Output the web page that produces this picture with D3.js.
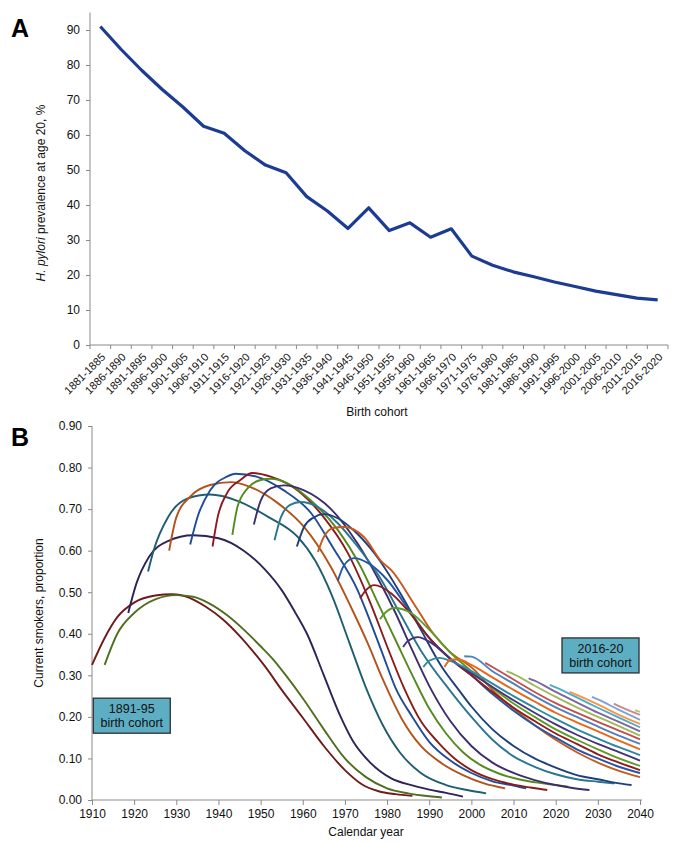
<!DOCTYPE html>
<html><head><meta charset="utf-8">
<script src="https://cdn.jsdelivr.net/npm/d3@7"></script>
<style>
body{margin:0;background:#fff;}
svg{display:block;font-family:"Liberation Sans",Arial,sans-serif;}
</style></head>
<body>
<svg id="chart" width="675" height="844"></svg>
<script>
// ---------- Panel A data ----------
const birthCohorts = ["1881-1885","1886-1890","1891-1895","1896-1900","1901-1905","1906-1910","1911-1915","1916-1920","1921-1925","1926-1930","1931-1935","1936-1940","1941-1945","1946-1950","1951-1955","1956-1960","1961-1965","1966-1970","1971-1975","1976-1980","1981-1985","1986-1990","1991-1995","1996-2000","2001-2005","2006-2010","2011-2015","2016-2020"];
const hpPrevalence = [91,84.5,78.5,73,68,62.5,60.5,55.5,51.4,49.2,42.4,38.3,33.3,39.2,32.7,34.9,30.8,33.2,25.4,22.8,20.9,19.5,18.0,16.7,15.4,14.4,13.4,12.9];
const hpTicks = [0,10,20,30,40,50,60,70,80,90];

// ---------- Panel B data ----------
const smokingCohorts = ["1886-90","1891-95","1896-1900","1901-05","1906-10","1911-15","1916-20","1921-25","1926-30","1931-35","1936-40","1941-45","1946-50","1951-55","1956-60","1961-65","1966-70","1971-75","1976-80","1981-85","1986-90","1991-95","1996-2000","2001-05","2006-10","2011-15","2016-20"];
const smokingColors = ["#6E1B1B","#4F6E1E","#2C2456","#1F5E70","#B4521A","#1F4C96","#8A1B1B","#558A1F","#3C2E6C","#2A7690","#1F3E7E","#C9581D","#2456A6","#8E1D1D","#5E9B24","#46317B","#2C89A4","#E8661A","#4F81BD","#C0504D","#9BBB59","#8064A2","#4BACC6","#F79646","#7EA3D3","#C98A8A","#AFC97A"];
const smokers = [
 [[1910,0.325],[1913,0.39],[1916,0.44],[1920,0.475],[1925,0.492],[1929,0.495],[1933,0.487],[1937,0.465],[1941,0.435],[1945,0.395],[1948,0.36],[1951,0.322],[1955,0.265],[1960,0.198],[1965,0.13],[1970,0.072],[1974,0.038],[1978,0.021],[1982,0.014],[1986,0.01]],
 [[1913,0.325],[1916,0.40],[1920,0.45],[1925,0.483],[1930,0.493],[1934,0.489],[1938,0.472],[1942,0.445],[1946,0.41],[1950,0.37],[1953,0.338],[1956,0.30],[1960,0.245],[1965,0.17],[1970,0.10],[1975,0.055],[1980,0.028],[1985,0.016],[1990,0.009],[1993,0.006]],
 [[1918.6,0.45],[1920.5,0.52],[1923.5,0.585],[1928,0.623],[1934,0.637],[1940,0.63],[1946,0.60],[1951,0.555],[1955,0.505],[1958,0.455],[1961,0.40],[1965,0.30],[1969,0.20],[1972,0.14],[1976,0.09],[1981,0.052],[1986,0.035],[1990,0.025],[1994,0.017],[1998,0.008]],
 [[1923.3,0.55],[1924.6,0.60],[1928,0.68],[1932.6,0.725],[1938,0.735],[1944.5,0.72],[1952,0.68],[1958.8,0.633],[1963,0.575],[1967,0.49],[1971,0.38],[1975,0.27],[1979,0.18],[1983,0.115],[1988,0.065],[1994,0.036],[1999,0.024],[2003.5,0.016]],
 [[1928.3,0.60],[1930,0.68],[1933.3,0.73],[1938,0.758],[1943,0.765],[1947.6,0.753],[1954,0.715],[1960.3,0.657],[1966.7,0.56],[1971.4,0.465],[1975.5,0.375],[1979,0.29],[1983.5,0.195],[1988,0.13],[1993,0.088],[1998,0.06],[2003,0.04],[2008,0.028]],
 [[1933.3,0.615],[1935,0.68],[1938,0.745],[1942,0.778],[1944,0.785],[1949,0.778],[1955.5,0.745],[1962,0.69],[1967,0.61],[1973,0.505],[1976,0.43],[1979,0.35],[1982,0.27],[1986,0.20],[1990,0.14],[1995,0.095],[2000,0.065],[2005,0.045],[2010,0.035],[2013,0.028]],
 [[1938.6,0.61],[1939.8,0.68],[1942,0.738],[1945.2,0.77],[1948,0.787],[1952.4,0.778],[1958.8,0.745],[1965,0.68],[1970.7,0.594],[1976,0.475],[1980,0.37],[1984,0.27],[1988,0.19],[1992,0.14],[1996,0.10],[2000,0.072],[2005,0.05],[2010,0.037],[2014,0.03],[2018,0.024]],
 [[1943.3,0.638],[1944.5,0.705],[1946.9,0.75],[1950,0.77],[1952.4,0.773],[1956.4,0.762],[1962,0.72],[1968.3,0.65],[1973.8,0.56],[1978,0.47],[1982,0.385],[1986,0.30],[1990,0.22],[1994,0.16],[1998,0.115],[2002,0.085],[2007,0.062],[2012,0.048],[2017,0.04],[2023,0.032]],
 [[1948.4,0.663],[1950,0.72],[1952.4,0.75],[1955.5,0.757],[1960.3,0.745],[1966.7,0.70],[1973,0.617],[1978,0.53],[1982,0.45],[1986,0.36],[1990.5,0.265],[1995,0.19],[2000,0.13],[2005,0.09],[2010,0.065],[2015,0.048],[2020,0.036],[2024,0.029],[2028,0.024]],
 [[1953.3,0.625],[1954.8,0.68],[1957,0.71],[1959.5,0.717],[1963.6,0.705],[1968.3,0.666],[1973,0.61],[1978,0.54],[1983,0.45],[1988,0.36],[1994.8,0.265],[2000,0.2],[2005,0.145],[2010,0.105],[2015,0.08],[2020,0.062],[2025,0.05],[2030,0.044],[2034,0.04]],
 [[1958.6,0.61],[1960.3,0.657],[1962.6,0.68],[1965,0.688],[1968.3,0.678],[1973,0.64],[1978,0.58],[1983,0.50],[1988,0.41],[1993,0.32],[1997,0.265],[2000,0.225],[2005,0.17],[2010,0.13],[2015,0.10],[2020,0.078],[2025,0.06],[2030,0.05],[2035,0.04],[2038,0.036]],
 [[1963.6,0.597],[1965,0.633],[1967.4,0.655],[1969.8,0.657],[1974.5,0.633],[1978.6,0.575],[1981,0.553],[1986.5,0.47],[1991,0.40],[1994.5,0.36],[2000.7,0.313],[2005,0.265],[2010,0.22],[2015,0.18],[2020,0.145],[2025,0.115],[2030,0.09],[2035,0.07],[2040,0.055]],
 [[1968.3,0.527],[1969.8,0.565],[1972.2,0.582],[1975.5,0.57],[1980,0.53],[1985,0.46],[1990,0.39],[1995,0.34],[2000,0.30],[2005,0.255],[2010,0.215],[2015,0.18],[2020,0.15],[2025,0.122],[2030,0.10],[2035,0.08],[2040,0.065]],
 [[1973.6,0.485],[1975,0.505],[1977,0.517],[1981,0.497],[1985,0.455],[1990,0.39],[1995,0.34],[2000,0.30],[2005,0.26],[2010,0.222],[2015,0.19],[2020,0.16],[2025,0.135],[2030,0.11],[2035,0.09],[2040,0.072]],
 [[1978.3,0.435],[1979.5,0.45],[1981.7,0.462],[1985.7,0.45],[1990,0.41],[1995,0.355],[2000,0.31],[2005,0.27],[2010,0.232],[2015,0.20],[2020,0.17],[2025,0.145],[2030,0.122],[2035,0.10],[2040,0.082]],
 [[1983.8,0.368],[1985,0.383],[1987.3,0.392],[1990.5,0.378],[1995,0.34],[2000,0.305],[2005,0.272],[2010,0.24],[2015,0.21],[2020,0.182],[2025,0.157],[2030,0.135],[2035,0.115],[2040,0.095]],
 [[1988.6,0.32],[1990,0.335],[1992.4,0.342],[1995,0.335],[2000,0.31],[2005,0.28],[2010,0.25],[2015,0.222],[2020,0.195],[2025,0.17],[2030,0.148],[2035,0.127],[2040,0.108]],
 [[1993.6,0.32],[1995.2,0.338],[1997,0.338],[2000,0.325],[2005,0.295],[2010,0.265],[2015,0.237],[2020,0.21],[2025,0.187],[2030,0.165],[2035,0.143],[2040,0.122]],
 [[1998.3,0.346],[2000,0.345],[2005,0.31],[2010,0.28],[2015,0.25],[2020,0.223],[2025,0.20],[2030,0.177],[2035,0.155],[2040,0.135]],
 [[2003.3,0.33],[2005,0.32],[2010,0.29],[2015,0.26],[2020,0.233],[2025,0.21],[2030,0.188],[2035,0.167],[2040,0.146]],
 [[2008.3,0.31],[2010,0.303],[2015,0.275],[2020,0.248],[2025,0.223],[2030,0.20],[2035,0.178],[2040,0.155]],
 [[2013.6,0.293],[2015,0.287],[2020,0.26],[2025,0.235],[2030,0.21],[2035,0.188],[2040,0.165]],
 [[2018.6,0.277],[2020,0.271],[2025,0.247],[2030,0.222],[2035,0.198],[2040,0.175]],
 [[2023.3,0.26],[2025,0.253],[2030,0.23],[2035,0.205],[2040,0.183]],
 [[2028.6,0.248],[2030,0.242],[2035,0.217],[2040,0.193]],
 [[2033.8,0.232],[2035,0.226],[2040,0.205]],
 [[2038.8,0.216],[2040,0.212]]
];
const yearTicks = [1910,1920,1930,1940,1950,1960,1970,1980,1990,2000,2010,2020,2030,2040];
const propTicks = [0,0.1,0.2,0.3,0.4,0.5,0.6,0.7,0.8,0.9];
const boxLabels = [["1891-95","birth cohort"],["2016-20","birth cohort"]];

const svg = d3.select("#chart");
const axisColor = "#8a8a8a";

function styleAxis(g){
  g.selectAll("path.domain").attr("stroke",axisColor).attr("stroke-width",1);
  g.selectAll(".tick line").attr("stroke",axisColor);
  g.selectAll("text").attr("fill","#111").attr("font-size","12px")
    .attr("font-family","'Liberation Sans',Arial,sans-serif");
}

// ---------- Panel A ----------
const ax = d3.scaleBand().domain(birthCohorts).range([90,668]);
const ay = d3.scaleLinear().domain([0,95]).range([345,12.5]);
const gA = svg.append("g");

const yAxisA = gA.append("g").attr("transform","translate(90,0)")
  .call(d3.axisLeft(ay).tickValues(hpTicks).tickSize(4).tickPadding(6).tickFormat(d3.format("d")));
styleAxis(yAxisA);
yAxisA.select("path.domain").attr("d","M0,12.5V345");

const xAxisA = gA.append("g").attr("transform","translate(0,345)");
xAxisA.append("line").attr("x1",90).attr("x2",668).attr("stroke",axisColor);
xAxisA.selectAll("line.tk").data(birthCohorts.concat(["end"])).enter().append("line")
  .attr("x1",(d,i)=>90+i*ax.step()).attr("x2",(d,i)=>90+i*ax.step())
  .attr("y1",0).attr("y2",4).attr("stroke",axisColor);
xAxisA.selectAll("text").data(birthCohorts).enter().append("text")
  .attr("transform",d=>`translate(${ax(d)+ax.bandwidth()/2+3},10) rotate(-45)`)
  .attr("text-anchor","end").attr("font-size","11px").attr("fill","#111")
  .attr("dy","0.35em").text(d=>d);

gA.append("path").datum(hpPrevalence)
  .attr("fill","none").attr("stroke","#1C3C94").attr("stroke-width",3.2).attr("stroke-linejoin","round")
  .attr("d",d3.line().x((d,i)=>ax(birthCohorts[i])+ax.bandwidth()/2).y(d=>ay(d)));

gA.append("text").attr("x",377).attr("y",416).attr("text-anchor","middle")
  .attr("font-size","12px").attr("fill","#111").text("Birth cohort");
const ytA = gA.append("text").attr("transform","translate(45,193) rotate(-90)")
  .attr("text-anchor","middle").attr("font-size","12px").attr("fill","#111");
ytA.append("tspan").attr("font-style","italic").text("H. pylori");
ytA.append("tspan").text(" prevalence at age 20, %");
gA.append("text").attr("x",11).attr("y",37).attr("font-size","25px").attr("font-weight","bold").text("A");

// ---------- Panel B ----------
const bx = d3.scaleLinear().domain([1910,2040]).range([92,640]);
const by = d3.scaleLinear().domain([0,0.9]).range([800,426]);
const gB = svg.append("g");

const yAxisB = gB.append("g").attr("transform","translate(92,0)")
  .call(d3.axisLeft(by).tickValues(propTicks).tickSize(4).tickPadding(6).tickFormat(d3.format(".2f")));
styleAxis(yAxisB);
yAxisB.select("path.domain").attr("d","M0,426V800");
const xAxisB = gB.append("g").attr("transform","translate(0,800)")
  .call(d3.axisBottom(bx).tickValues(yearTicks).tickSize(5).tickPadding(4).tickFormat(d3.format("d")));
styleAxis(xAxisB);
xAxisB.select("path.domain").attr("d","M92,0H642");

const lineB = d3.line().x(d=>bx(d[0])).y(d=>by(d[1])).curve(d3.curveMonotoneX);
gB.append("g").selectAll("path").data(smokers).enter().append("path")
  .attr("fill","none").attr("stroke",(d,i)=>smokingColors[i]).attr("stroke-width",1.9)
  .attr("d",lineB);

gB.append("text").attr("x",366).attr("y",836).attr("text-anchor","middle")
  .attr("font-size","12px").attr("fill","#111").text("Calendar year");
gB.append("text").attr("transform","translate(43,613) rotate(-90)")
  .attr("text-anchor","middle").attr("font-size","12px").attr("fill","#111").text("Current smokers, proportion");
gB.append("text").attr("x",11).attr("y",446).attr("font-size","25px").attr("font-weight","bold").text("B");

// label boxes
const boxes = [{x:bx(1910.3),y:by(0.245),w:77,h:35},{x:bx(2021.5),y:by(0.39),w:77,h:35}];
boxes.forEach((b,i)=>{
  const g = gB.append("g");
  g.append("rect").attr("x",b.x).attr("y",b.y).attr("width",b.w).attr("height",b.h)
    .attr("fill","#5DAEC3").attr("stroke","#2A2E33").attr("stroke-width",1.3);
  g.append("text").attr("x",b.x+b.w/2).attr("y",b.y+15).attr("text-anchor","middle")
    .attr("font-size","12.5px").attr("fill","#111").text(boxLabels[i][0]);
  g.append("text").attr("x",b.x+b.w/2).attr("y",b.y+29).attr("text-anchor","middle")
    .attr("font-size","12.5px").attr("fill","#111").text(boxLabels[i][1]);
});
</script>
</body></html>
